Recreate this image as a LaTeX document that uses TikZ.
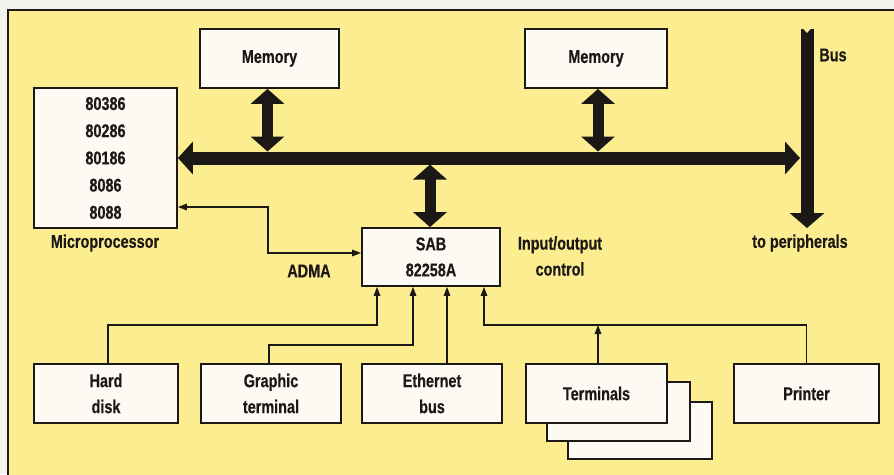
\documentclass[tikz,border=0pt]{standalone}
\usepackage{fontspec}
\setmainfont{Liberation Sans}[FakeStretch=0.78,BoldFeatures={FakeBold=0.4}]
\usetikzlibrary{arrows.meta,calc}
\definecolor{bgyellow}{RGB}{252,237,145}
\definecolor{boxfill}{RGB}{252,250,243}
\definecolor{ink}{RGB}{28,24,22}
\definecolor{outside}{RGB}{243,243,238}
\newcommand\dlabelfont{\fontsize{18.5}{26}\selectfont\bfseries}
\begin{document}
\begin{tikzpicture}[x=1pt,y=-1pt,
  box/.style={draw=ink, line width=1.8pt, fill=boxfill, align=center, inner sep=0pt, text=ink, font=\dlabelfont},
  lbl/.style={text=ink, align=center, font=\dlabelfont, inner sep=0pt},
  busarrow/.style={draw=ink, line width=13pt, {Triangle[width=32pt,length=15pt]}-{Triangle[width=32pt,length=15pt]}},
  dblarrow/.style={draw=ink, line width=11pt, {Triangle[width=33pt,length=15pt]}-{Triangle[width=33pt,length=15pt]}},
  conn/.style={draw=ink, line width=1.5pt, -{Triangle[width=6.5pt,length=9pt]}},
  connboth/.style={draw=ink, line width=1.5pt, {Triangle[width=6.5pt,length=9pt]}-{Triangle[width=6.5pt,length=9pt]}},
]
\useasboundingbox (0,0) rectangle (894,474);
\clip (0,0) rectangle (894,474);
\fill[outside] (0,0) rectangle (894,474);
\draw[ink, line width=1.5pt, fill=bgyellow] (8,10) rectangle (910,490);

% boxes
\node[box, minimum width=139pt, minimum height=59pt] (mem1) at (269.5,58.5) {Memory};
\node[box, minimum width=142pt, minimum height=59pt] (mem2) at (596,58.5) {Memory};
\node[box, minimum width=143pt, minimum height=140pt, font={\fontsize{18.5}{27.2}\selectfont\bfseries}] (micro) at (105.5,158) {80386\\80286\\80186\\8086\\8088};
\node[box, minimum width=138pt, minimum height=58pt] (sab) at (431,257) {SAB\\82258A};
\node[box, minimum width=144pt, minimum height=59pt] (hd) at (106,393.5) {Hard\\disk};
\node[box, minimum width=140pt, minimum height=59pt] (gt) at (271,393.5) {Graphic\\terminal};
\node[box, minimum width=140pt, minimum height=59pt] (eth) at (432,393.5) {Ethernet\\bus};
\node[box, minimum width=144pt, minimum height=57pt] (term3) at (640,430.5) {};
\node[box, minimum width=143pt, minimum height=59pt] (term2) at (618.5,411.5) {};
\node[box, minimum width=141pt, minimum height=59pt] (term) at (596.5,393.5) {Terminals};
\node[box, minimum width=145pt, minimum height=59pt] (printer) at (806.5,393.5) {Printer};

% labels
\node[lbl] (lmicro) at (105,243) {Microprocessor};
\node[lbl] (lbus) at (833,55) {Bus};
\node[lbl] (lperiph) at (800,243) {to peripherals};
\node[lbl] (ladma) at (309,271) {ADMA};
\node[lbl] (lio) at (560,256) {Input/output\\control};

% bus
\coordinate (vbusTop) at (807,29);
\coordinate (vbusEnd) at (807,228);
\coordinate (vbusL) at (800,158);
\coordinate (busN) at (500,151.5);
\coordinate (busS) at (500,164.5);
\draw[ink, line width=13pt, -{Triangle[width=34pt,length=15pt]}] (vbusTop) -- (vbusEnd);
\fill[bgyellow] (803,28.5) -- (807,33) -- (811,28.5) -- cycle;
\draw[busarrow] (micro.east) -- (vbusL);

% double arrows
\draw[dblarrow] ([xshift=-2pt]mem1.south) -- ([xshift=-2pt]mem1.south |- busN);
\draw[dblarrow] ([xshift=2pt]mem2.south) -- ([xshift=2pt]mem2.south |- busN);
\draw[dblarrow] ([xshift=-1pt]sab.north |- busS) -- ([xshift=-1pt]sab.north);

% ADMA
\coordinate (admaA) at (268,207);
\coordinate (admaB) at (268,253);
\draw[connboth] (micro.east |- admaA) -- (admaA) -- (admaB) -- (sab.west |- admaB);

% peripheral connectors
\coordinate (j1) at (377,325);
\coordinate (j2) at (413,345);
\coordinate (j3) at (447,345);
\coordinate (j4) at (484,325);
\draw[conn] ([xshift=2pt]hd.north) |- (j1) -- (j1 |- sab.south);
\draw[conn] ([xshift=-2pt]gt.north) |- (j2) -- (j2 |- sab.south);
\draw[conn] (eth.north -| j3) -- (sab.south -| j3);
\draw[conn] (printer.north) |- (j4) -- (j4 |- sab.south);
\draw[conn] ([xshift=1.5pt]term.north) -- ([xshift=1.5pt]term.north |- j4);
\end{tikzpicture}
\end{document}
